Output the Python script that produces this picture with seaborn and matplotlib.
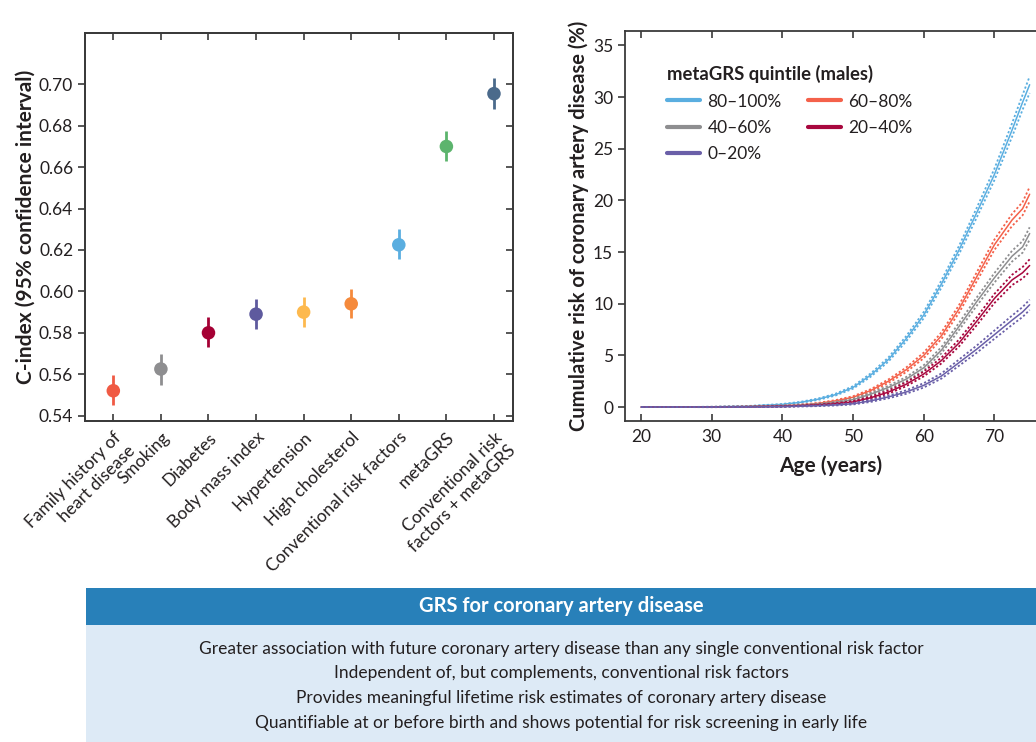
import numpy as np
import pandas as pd
import matplotlib
matplotlib.use("Agg")
import matplotlib.pyplot as plt
from matplotlib.lines import Line2D
from matplotlib.patches import Rectangle
import seaborn as sns

# ---------------- data: left panel ----------------
categories = ["Family history of\nheart disease", "Smoking", "Diabetes", "Body mass index",
              "Hypertension", "High cholesterol", "Conventional risk factors", "metaGRS",
              "Conventional risk\nfactors + metaGRS"]
cindex = [0.552, 0.5625, 0.580, 0.589, 0.590, 0.594, 0.6225, 0.670, 0.6955]
ci_low = [0.5450, 0.5550, 0.5730, 0.5820, 0.5830, 0.5870, 0.6155, 0.6630, 0.6880]
ci_high = [0.5595, 0.5700, 0.5875, 0.5965, 0.5975, 0.6010, 0.6300, 0.6775, 0.7030]
point_colors = ["#f05a44", "#8e8e90", "#a50034", "#5e5a9e", "#fdb94e", "#f58a3c",
                "#5aaee0", "#5cb46d", "#4b6a8b"]
yticks_left = [0.54, 0.56, 0.58, 0.60, 0.62, 0.64, 0.66, 0.68, 0.70]

# ---------------- data: right panel ----------------
ages = [20, 25, 30, 35, 40, 42.5, 45, 47.5, 50, 52.5, 55, 57.5, 60, 62.5, 65, 67.5, 70, 72.5, 74, 75]
q80_100 = [0, 0, 0.02, 0.08, 0.26, 0.45, 0.75, 1.2, 1.9, 3.1, 4.6, 6.6, 8.9, 11.9, 15.2, 18.8, 22.5, 26.8, 29.5, 31.2]
q60_80 = [0, 0, 0.01, 0.04, 0.12, 0.2, 0.35, 0.6, 0.95, 1.6, 2.5, 3.6, 5.0, 6.9, 9.5, 12.6, 15.7, 18.1, 19.2, 20.6]
q40_60 = [0, 0, 0.01, 0.03, 0.1, 0.17, 0.28, 0.45, 0.72, 1.25, 1.9, 2.7, 3.8, 5.5, 7.8, 10.2, 12.5, 14.6, 15.5, 16.8]
q20_40 = [0, 0, 0, 0.02, 0.06, 0.12, 0.2, 0.32, 0.5, 0.9, 1.45, 2.2, 3.2, 4.5, 6.2, 8.3, 10.5, 12.3, 13.0, 13.7]
q0_20 = [0, 0, 0, 0.01, 0.04, 0.08, 0.13, 0.2, 0.32, 0.6, 0.98, 1.45, 2.1, 3.0, 4.3, 5.6, 7.0, 8.4, 9.2, 9.9]
hw80_100 = [0, 0, 0.01, 0.02, 0.04, 0.05, 0.07, 0.09, 0.12, 0.16, 0.2, 0.25, 0.3, 0.35, 0.4, 0.47, 0.55, 0.65, 0.72, 0.8]
hw60_80 = [0, 0, 0.01, 0.02, 0.03, 0.04, 0.05, 0.07, 0.1, 0.13, 0.17, 0.22, 0.27, 0.32, 0.37, 0.43, 0.5, 0.58, 0.64, 0.7]
hw40_60 = [0, 0, 0.01, 0.02, 0.03, 0.04, 0.05, 0.06, 0.09, 0.12, 0.16, 0.2, 0.25, 0.3, 0.35, 0.4, 0.46, 0.52, 0.56, 0.6]
hw20_40 = [0, 0, 0.01, 0.01, 0.02, 0.03, 0.04, 0.05, 0.08, 0.11, 0.15, 0.19, 0.23, 0.28, 0.33, 0.38, 0.44, 0.5, 0.55, 0.6]
hw0_20 = [0, 0, 0.01, 0.01, 0.02, 0.03, 0.04, 0.05, 0.07, 0.1, 0.13, 0.17, 0.21, 0.25, 0.3, 0.35, 0.4, 0.45, 0.48, 0.5]
quintile_labels = ["80\u2013100%", "60\u201380%", "40\u201360%", "20\u201340%", "0\u201320%"]
line_colors = ["#5aaee0", "#f4614a", "#8e8e90", "#a8073e", "#6a5fa8"]
xticks_right = [20, 30, 40, 50, 60, 70]
yticks_right = [0, 5, 10, 15, 20, 25, 30, 35]

# ---------------- data: text box ----------------
box_title = "GRS for coronary artery disease"
box_lines = [
    "Greater association with future coronary artery disease than any single conventional risk factor",
    "Independent of, but complements, conventional risk factors",
    "Provides meaningful lifetime risk estimates of coronary artery disease",
    "Quantifiable at or before birth and shows potential for risk screening in early life",
]

# ---------------- style ----------------
sns.set_theme(style="ticks")
plt.rcParams["font.family"] = ["Lato", "DejaVu Sans"]
TXT = "#231f20"
SP = "#3a3a3a"
plt.rcParams.update({
    "text.color": TXT, "axes.labelcolor": TXT, "xtick.color": SP, "ytick.color": SP,
    "axes.edgecolor": SP, "axes.linewidth": 1.3,
})
LABEL_FS = 15
TICK_FS = 12.5

fig = plt.figure(figsize=(10.36, 7.42), dpi=100)

# ---------------- left panel ----------------
axL = fig.add_axes([85 / 1036, 1 - 421 / 742, 428 / 1036, 388 / 742])
pos = np.arange(len(categories))
dfL = pd.DataFrame({"pos": pos, "cindex": cindex, "cat": categories})
axL.vlines(pos, ci_low, ci_high, colors=point_colors, lw=2.0, zorder=2)
sns.scatterplot(data=dfL, x="pos", y="cindex", hue="cat", palette=dict(zip(categories, point_colors)),
                s=95, edgecolor="none", legend=False, ax=axL, zorder=3)
axL.set_xlim(-0.595, 8.40)
axL.set_ylim(0.5374, 0.7248)
axL.set_yticks(yticks_left)
axL.set_yticklabels([f"{v:.2f}" for v in yticks_left], fontsize=TICK_FS, color=TXT)
axL.set_xticks(pos)
axL.set_xticklabels(categories, rotation=45, ha="right", rotation_mode="anchor",
                    fontsize=TICK_FS, color=TXT, multialignment="right")
axL.tick_params(axis="y", direction="out", length=5, width=1.2, left=True, right=False)
axL.tick_params(axis="x", direction="in", length=5, width=1.2, top=True, bottom=True, pad=6)
axL.set_xlabel("")
axL.set_ylabel("C-index (95% confidence interval)", fontsize=LABEL_FS, fontweight="bold", labelpad=2)
# inward ticks on the right spine
axL2 = axL.twinx()
axL2.set_ylim(axL.get_ylim())
axL2.set_yticks(yticks_left)
axL2.set_yticklabels([])
axL2.tick_params(axis="y", direction="in", length=5, width=1.2, right=True)
axL2.grid(False)

# ---------------- right panel ----------------
axR = fig.add_axes([625 / 1036, 1 - 421 / 742, 411 / 1036, 390 / 742])
series = [q80_100, q60_80, q40_60, q20_40, q0_20]
halfw = [hw80_100, hw60_80, hw40_60, hw20_40, hw0_20]
for lab, vals, hw, col in zip(quintile_labels, series, halfw, line_colors):
    d = pd.DataFrame({"age": ages, "risk": vals})
    sns.lineplot(data=d, x="age", y="risk", color=col, lw=1.1, ax=axR, legend=False)
    v = np.array(vals)
    h = np.array(hw)
    axR.plot(ages, v + h, color=col, lw=1.3, ls=(0, (1.2, 1.2)))
    axR.plot(ages, v - h, color=col, lw=1.3, ls=(0, (1.2, 1.2)))
axR.set_xlim(17.7, 75.9)
axR.set_ylim(-1.35, 36.4)
axR.set_xticks(xticks_right)
axR.set_xticklabels([str(v) for v in xticks_right], fontsize=TICK_FS, color=TXT)
axR.set_yticks(yticks_right)
axR.set_yticklabels([str(v) for v in yticks_right], fontsize=TICK_FS, color=TXT)
axR.tick_params(axis="x", direction="in", length=5, width=1.2, top=True, bottom=True, pad=6)
axR.tick_params(axis="y", direction="out", length=5, width=1.2)
axR.spines["right"].set_visible(False)
axR.set_xlabel("Age (years)", fontsize=LABEL_FS, fontweight="bold", labelpad=7)
axR.set_ylabel("Cumulative risk of coronary artery disease (%)", fontsize=14.5,
               fontweight="bold", labelpad=3)

order = [0, 2, 4, 1, 3]
handles = [Line2D([0], [0], color=line_colors[i], lw=3) for i in order]
labels = [quintile_labels[i] for i in order]
leg = axR.legend(handles, labels, ncol=2, title="metaGRS quintile (males)", frameon=False,
                 loc="upper left", bbox_to_anchor=(0.080, 0.935), borderpad=0,
                 fontsize=TICK_FS, title_fontproperties={"weight": "bold", "size": 13.3},
                 handlelength=1.9, handletextpad=0.45, columnspacing=1.5, labelspacing=0.6,
                 alignment="left")
for t in leg.get_texts():
    t.set_color(TXT)
leg.get_title().set_color(TXT)

# ---------------- text box ----------------
axB = fig.add_axes([86 / 1036, 0, 950 / 1036, 154 / 742])
axB.set_xlim(0, 1)
axB.set_ylim(742, 588)
axB.axis("off")
axB.add_patch(Rectangle((0, 588), 1, 37, facecolor="#2880b9", edgecolor="none"))
axB.add_patch(Rectangle((0, 625), 1, 117, facecolor="#ddeaf6", edgecolor="none"))
cx = (561 - 86) / 950
axB.text(cx, 606.5, box_title, ha="center", va="center", color="white", fontsize=14.5, fontweight="bold")
for yy, line in zip([649, 673, 698, 723], box_lines):
    axB.text(cx, yy, line, ha="center", va="center", color=TXT, fontsize=12.5)

fig.savefig("out.png", dpi=100)
